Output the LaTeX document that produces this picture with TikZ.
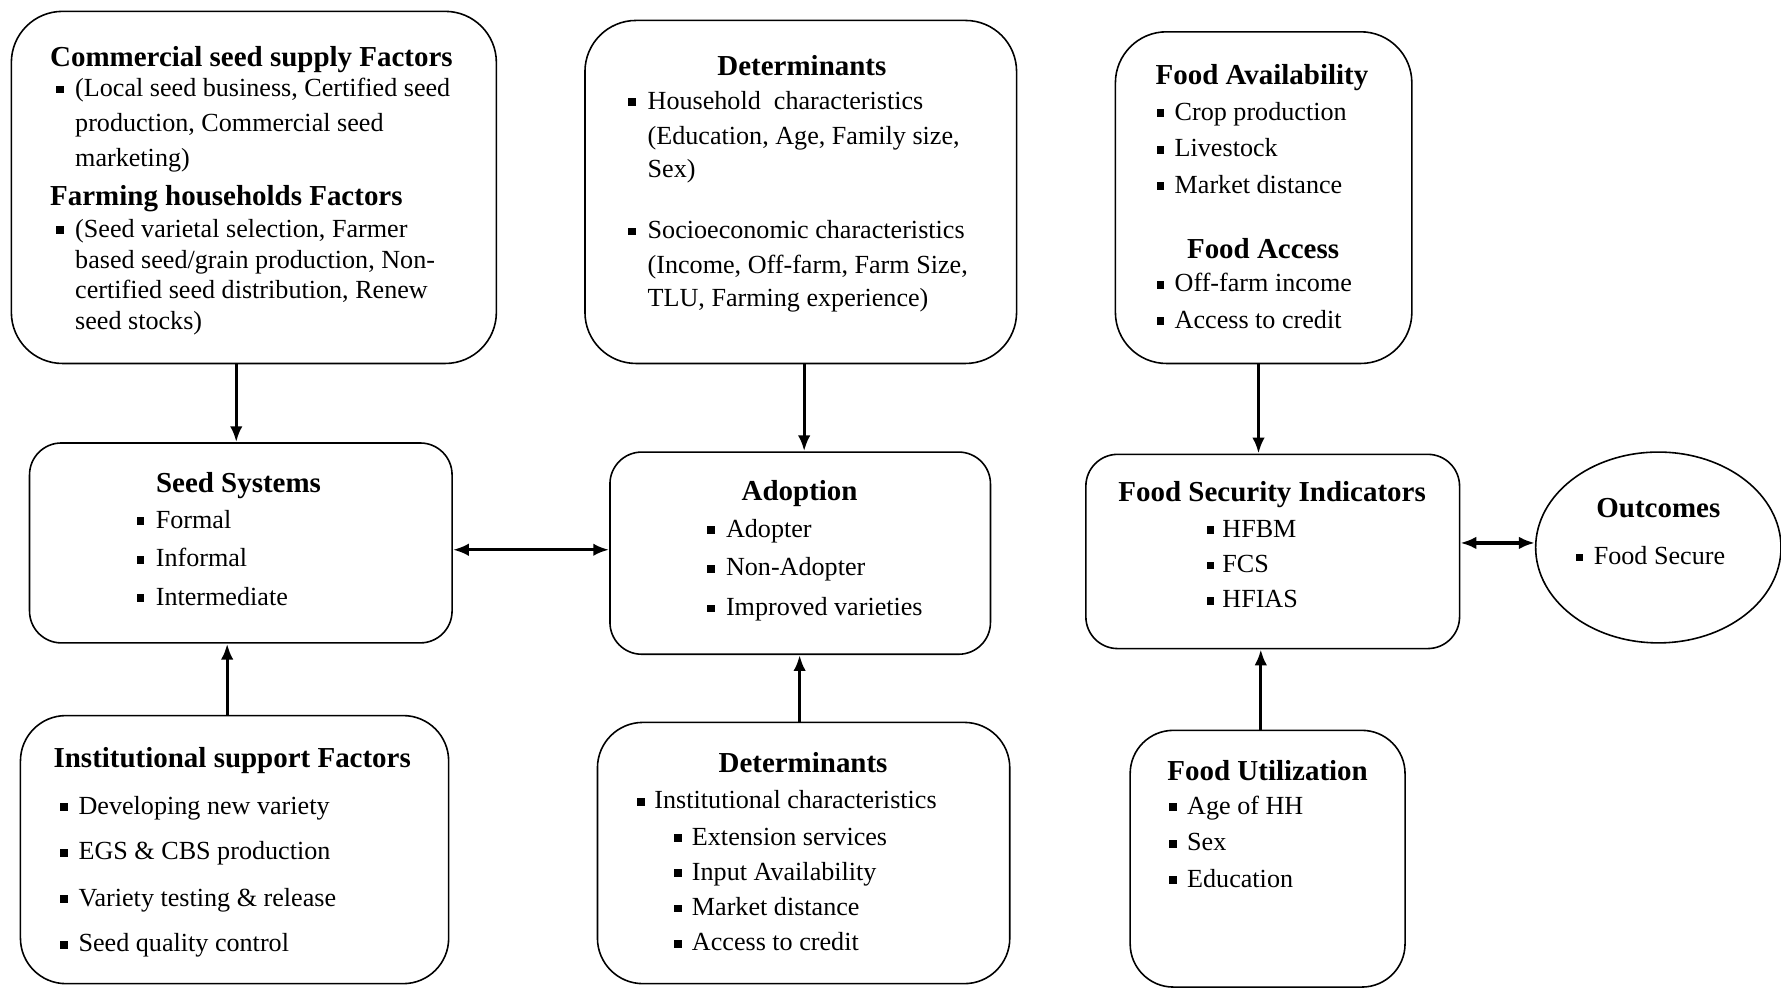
\documentclass[tikz,border=0pt]{standalone}
\usepackage{fontspec}
\setmainfont{Liberation Serif}
\usetikzlibrary{arrows.meta,shapes.geometric}
\newcommand\sqb{\rule[0.12em]{0.3em}{0.3em}}
\newcommand\bt[2][17pt]{\makebox[#1][l]{\sqb}#2}
\begin{document}
\begin{tikzpicture}[x=1pt,y=-1pt,
  box/.style={draw, line width=1.4pt, rounded corners=#1, inner sep=0pt},
  tx/.style={anchor=west, inner sep=0pt, font=\fontsize{23}{27}\selectfont, text height=20pt, text depth=4pt},
  hd/.style={inner sep=0pt, font=\bfseries\fontsize{25.5}{30}\selectfont, text height=20pt, text depth=3pt},
  arr/.style={line width=2.8pt, -{Latex[length=14pt,width=11pt]}},
  darr/.style={line width=2.8pt, {Latex[length=14pt,width=11pt]}-{Latex[length=14pt,width=11pt]}}]
\useasboundingbox (0,0) rectangle (1568,870);

% boxes
\node[box=45pt, minimum width=427pt, minimum height=310pt] (b1) at (223.5,165) {};
\node[box=45pt, minimum width=380pt, minimum height=302pt] (b2) at (705,169) {};
\node[box=45pt, minimum width=261pt, minimum height=292pt] (b3) at (1112.5,174) {};
\node[box=28pt, minimum width=372pt, minimum height=176pt] (b4) at (212,478) {};
\node[box=28pt, minimum width=335pt, minimum height=178pt] (b5) at (704.5,487) {};
\node[box=28pt, minimum width=329pt, minimum height=171pt] (b6) at (1120.5,485.5) {};
\node[draw, line width=1.4pt, ellipse, inner sep=0pt, minimum width=216pt, minimum height=168pt] (ell) at (1460,482) {};
\node[box=40pt, minimum width=377pt, minimum height=236pt] (b8) at (206.5,748) {};
\node[box=40pt, minimum width=363pt, minimum height=230pt] (b9) at (707.5,751) {};
\node[box=38pt, minimum width=242pt, minimum height=226pt] (b10) at (1116,756) {};

% box 1
\node[hd,anchor=west] (b1h1) at (44,50) {Commercial seed supply Factors};
\node[tx] (b1l1) at (49,77) {\bt{(Local seed business, Certified seed}};
\node[tx] (b1l2) at (66,108) {production, Commercial seed};
\node[tx] (b1l3) at (66,139) {marketing)};
\node[hd,anchor=west] (b1h2) at (44,172) {Farming households Factors};
\node[tx] (b1l4) at (49,201) {\bt{(Seed varietal selection, Farmer}};
\node[tx] (b1l5) at (66,228) {based seed/grain production, Non-};
\node[tx] (b1l6) at (66,255) {certified seed distribution, Renew};
\node[tx] (b1l7) at (66,282) {seed stocks)};

% box 2
\node[hd] (b2h) at (706,58) {Determinants};
\node[tx] (b2l1) at (553,88) {\bt{Household\ \ characteristics}};
\node[tx] (b2l2) at (570,119) {(Education,\ Age, Family size,};
\node[tx] (b2l3) at (570,148) {Sex)};
\node[tx] (b2l4) at (553,202) {\bt{Socioeconomic characteristics}};
\node[tx] (b2l5) at (570,233) {(Income, Off-farm, Farm Size,};
\node[tx] (b2l6) at (570,262) {TLU, Farming experience)};

% box 3
\node[hd] (b3h1) at (1111,66) {Food Availability};
\node[tx] (b3l1) at (1018,98) {\bt[16pt]{Crop production}};
\node[tx] (b3l2) at (1018,130) {\bt[16pt]{Livestock}};
\node[tx] (b3l3) at (1018,162) {\bt[16pt]{Market distance}};
\node[hd] (b3h2) at (1112,219) {Food Access};
\node[tx] (b3l4) at (1018,249) {\bt[16pt]{Off-farm income}};
\node[tx] (b3l5) at (1018,281) {\bt[16pt]{Access to credit}};

% box 4
\node[hd] (b4h) at (210,425) {Seed Systems};
\node[tx] (b4l1) at (120,457) {\bt{Formal}};
\node[tx] (b4l2) at (120,491) {\bt{Informal}};
\node[tx] (b4l3) at (120,525) {\bt{Intermediate}};

% box 5
\node[hd] (b5h) at (704,432) {Adoption};
\node[tx] (b5l1) at (622,465) {\bt{Adopter}};
\node[tx] (b5l2) at (622,499) {\bt{Non-Adopter}};
\node[tx] (b5l3) at (622,534) {\bt{Improved varieties}};

% box 6
\node[hd] (b6h) at (1120,433) {Food Security Indicators};
\node[tx] (b6l1) at (1062,465) {\bt[14pt]{HFBM}};
\node[tx] (b6l2) at (1062,496) {\bt[14pt]{FCS}};
\node[tx] (b6l3) at (1062,527) {\bt[14pt]{HFIAS}};

% outcomes
\node[hd] (elh) at (1460,447) {Outcomes};
\node[tx] (ell1) at (1387,489) {\bt[16pt]{Food Secure}};

% box 8
\node[hd,anchor=west] (b8h) at (47,667) {Institutional support Factors};
\node[tx] (b8l1) at (53,709) {\bt[16pt]{Developing new variety}};
\node[tx] (b8l2) at (53,749) {\bt[16pt]{EGS \& CBS production}};
\node[tx] (b8l3) at (53,790) {\bt[16pt]{Variety testing \& release}};
\node[tx] (b8l4) at (53,830) {\bt[16pt]{Seed quality control}};

% box 9
\node[hd] (b9h) at (707,672) {Determinants};
\node[tx] (b9l1) at (561,704) {\bt[15pt]{Institutional characteristics}};
\node[tx] (b9l2) at (593,736) {\bt[16pt]{Extension services}};
\node[tx] (b9l3) at (593,767) {\bt[16pt]{Input Availability}};
\node[tx] (b9l4) at (593,798) {\bt[16pt]{Market distance}};
\node[tx] (b9l5) at (593,829) {\bt[16pt]{Access to credit}};

% box 10
\node[hd] (b10h) at (1116,679) {Food Utilization};
\node[tx] (b10l1) at (1029,709) {\bt[16pt]{Age of HH}};
\node[tx] (b10l2) at (1029,741) {\bt[16pt]{Sex}};
\node[tx] (b10l3) at (1029,773) {\bt[16pt]{Education}};

% connectors
\coordinate (v1) at (208,0);
\coordinate (v2) at (708,0);
\coordinate (v3) at (1108,0);
\coordinate (v4) at (200,0);
\coordinate (v5) at (704,0);
\coordinate (v6) at (1110,0);
\coordinate (h1) at (0,484);
\coordinate (h2) at (0,478);
\draw[arr] (v1 |- b1.south) -- (v1 |- b4.north);
\draw[arr] (v2 |- b2.south) -- (v2 |- b5.north);
\draw[arr] (v3 |- b3.south) -- (v3 |- b6.north);
\draw[arr] (v4 |- b8.north) -- (v4 |- b4.south);
\draw[arr] (v5 |- b9.north) -- (v5 |- b5.south);
\draw[arr] (v6 |- b10.north) -- (v6 |- b6.south);
\draw[darr] (b4.east |- h1) -- (b5.west |- h1);
\draw[darr] (b6.east |- h2) -- (ell.west |- h2);
\end{tikzpicture}
\end{document}
